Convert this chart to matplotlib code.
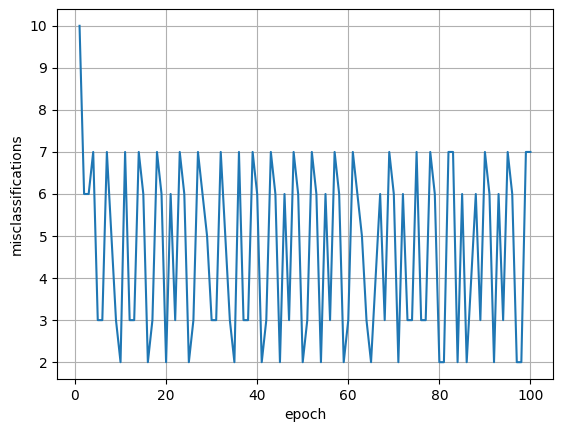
import matplotlib
matplotlib.use("Agg")
import matplotlib.pyplot as plt

epochs = list(range(1, 101))
misclassifications = [
    10, 6, 6, 7, 3, 3, 7, 5, 3, 2,
    7, 3, 3, 7, 6, 2, 3, 7, 6, 2,
    6, 3, 7, 6, 2, 3, 7, 6, 5, 3,
    3, 7, 5, 3, 2, 7, 3, 3, 7, 6,
    2, 3, 7, 6, 2, 6, 3, 7, 6, 2,
    3, 7, 6, 2, 6, 3, 7, 6, 2, 3,
    7, 6, 5, 3, 2, 4, 6, 3, 7, 6,
    2, 6, 3, 3, 7, 3, 3, 7, 6, 2,
    2, 7, 7, 2, 6, 2, 4, 6, 3, 7,
    6, 2, 6, 3, 7, 6, 2, 2, 7, 7,
]

fig = plt.figure(figsize=(5.62, 4.32), dpi=100)
ax = fig.add_axes([57 / 562, 53 / 432, 496 / 562, 370 / 432])
ax.plot(epochs, misclassifications)
ax.set_xlabel("epoch")
ax.set_ylabel("misclassifications")
ax.grid(True)

fig.savefig("out.png", dpi=100)
